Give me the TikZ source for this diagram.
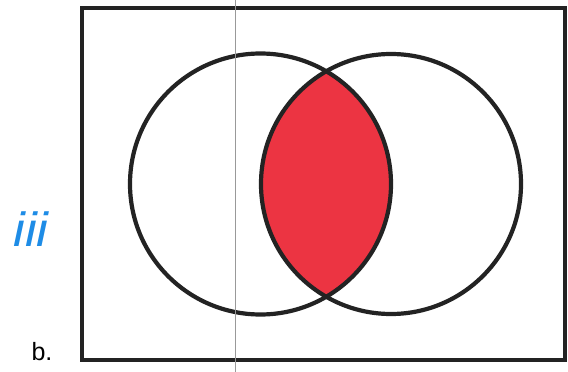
\documentclass[tikz,border=0pt]{standalone}
\usepackage{fontspec}
\setmainfont{Liberation Sans}
\definecolor{lensred}{RGB}{236,52,66}
\definecolor{inkblue}{RGB}{30,140,230}
\definecolor{edgegray}{RGB}{35,35,35}
\tikzset{
  frame/.style={draw=edgegray, line width=4.2pt},
  setcircle/.style={draw=edgegray, line width=4.2pt},
  scanline/.style={draw=black!40, line width=0.8pt},
  labeltext/.style={inner sep=0pt}
}
\begin{document}
\begin{tikzpicture}[x=1pt,y=-1pt]
\useasboundingbox (0,0) rectangle (568,372);
\fill[white] (0,0) rectangle (568,372);
% lens fill
\begin{scope}
  \clip (260.5,184) circle (130.5);
  \fill[lensred] (391,184) circle (130);
\end{scope}
\draw[frame] (82,8) rectangle (565,360);
\draw[setcircle] (260.5,184) circle (130.5);
\draw[setcircle] (391,184) circle (130);
\coordinate (st) at (235,0);
\coordinate (sb) at (235,372);
\draw[scanline] (st) -- (sb);
\node[labeltext, text=inkblue, font=\fontsize{48}{48}\selectfont\itshape, xscale=1.1] (iii) at (31,229) {iii};
\node[labeltext, font=\fontsize{25}{25}\selectfont] (b) at (42,352) {b.};
\end{tikzpicture}
\end{document}
